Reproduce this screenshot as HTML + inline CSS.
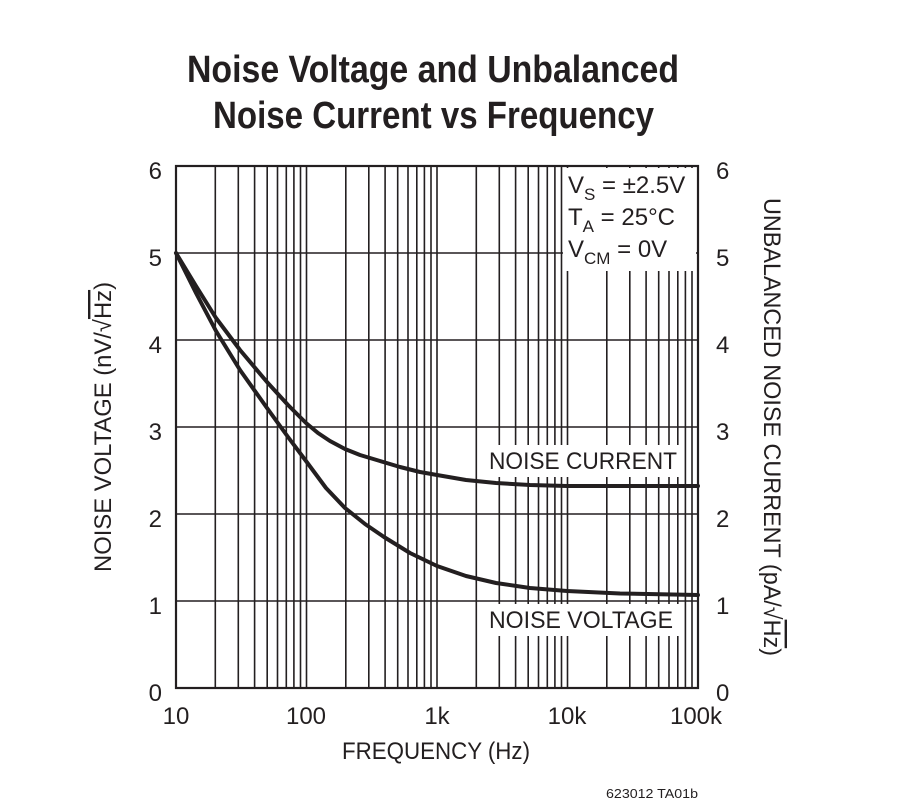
<!DOCTYPE html>
<html><head><meta charset="utf-8"><style>
body{margin:0;background:#fff}
text{font-family:"Liberation Sans Narrow","Liberation Sans",sans-serif;fill:#231f20}
</style></head><body>
<svg width="910" height="807" viewBox="0 0 910 807" xmlns="http://www.w3.org/2000/svg">
<g stroke="#231f20" stroke-width="1.6" fill="none">
<path d="M215.3 166V688M238.3 166V688M254.6 166V688M267.2 166V688M277.5 166V688M286.3 166V688M293.9 166V688M300.5 166V688
M306.5 166V688M345.8 166V688M368.8 166V688M385.1 166V688M397.7 166V688M408 166V688M416.8 166V688M424.4 166V688M431 166V688
M437 166V688M476.3 166V688M499.3 166V688M515.6 166V688M528.2 166V688M538.5 166V688M547.3 166V688M554.9 166V688M561.5 166V688
M567.5 166V688M606.8 166V688M629.8 166V688M646.1 166V688M658.7 166V688M669 166V688M677.8 166V688M685.4 166V688M692 166V688
M176 253H698M176 340H698M176 427H698M176 514H698M176 601H698"/>
</g>
<rect x="176" y="166" width="522" height="522" fill="none" stroke="#231f20" stroke-width="2.2"/>
<g stroke="#231f20" stroke-width="4" fill="none" stroke-linecap="round" stroke-linejoin="round">
<polyline points="176,253 196,286 216,318 240,350 267,382 288,405 306,423 318,433 330,441 345,449 360,455 380,461 400,467 420,472 437,475 466,480 496,483 530,485 567,486 698,486"/>
<polyline points="176,253 196,293 216,331 240,370 267,408 288,437 306,461 326,488 345,508 365,524 384,537 410,553 437,566 466,576 496,583 530,588 567,591 620,593.5 698,595"/>
</g>
<rect x="563" y="168" width="133" height="103" fill="#fff"/>
<rect x="484" y="445" width="196" height="32" fill="#fff"/>
<rect x="484" y="604" width="196" height="32" fill="#fff"/>
<text x="187" y="82" font-size="38" font-weight="bold" textLength="492" lengthAdjust="spacingAndGlyphs">Noise Voltage and Unbalanced</text>
<text x="213" y="128" font-size="38" font-weight="bold" textLength="441" lengthAdjust="spacingAndGlyphs">Noise Current vs Frequency</text>
<g font-size="24" text-anchor="end">
<text x="162" y="179">6</text><text x="162" y="266">5</text><text x="162" y="353">4</text><text x="162" y="440">3</text><text x="162" y="527">2</text><text x="162" y="614">1</text><text x="162" y="701">0</text>
</g>
<g font-size="24">
<text x="716" y="179">6</text><text x="716" y="266">5</text><text x="716" y="353">4</text><text x="716" y="440">3</text><text x="716" y="527">2</text><text x="716" y="614">1</text><text x="716" y="701">0</text>
</g>
<g font-size="24" text-anchor="middle">
<text x="176" y="724">10</text><text x="306" y="724">100</text><text x="437" y="724">1k</text><text x="567" y="724">10k</text><text x="696" y="724">100k</text>
</g>
<text x="342" y="759" font-size="24" textLength="188" lengthAdjust="spacingAndGlyphs">FREQUENCY (Hz)</text>
<text transform="translate(111 572) rotate(-90)" font-size="24" textLength="290" lengthAdjust="spacingAndGlyphs">NOISE VOLTAGE (nV/√<tspan text-decoration="overline">Hz</tspan>)</text>
<text transform="translate(764 198) rotate(90)" font-size="24" textLength="458" lengthAdjust="spacingAndGlyphs">UNBALANCED NOISE CURRENT (pA/√<tspan text-decoration="overline">Hz</tspan>)</text>
<g font-size="24">
<text x="568" y="193">V<tspan font-size="17" dy="7">S</tspan><tspan dy="-7"> = ±2.5V</tspan></text>
<text x="568" y="225">T<tspan font-size="17" dy="7">A</tspan><tspan dy="-7"> = 25°C</tspan></text>
<text x="568" y="257">V<tspan font-size="17" dy="7">CM</tspan><tspan dy="-7"> = 0V</tspan></text>
<text x="489" y="469" textLength="188" lengthAdjust="spacingAndGlyphs">NOISE CURRENT</text>
<text x="489" y="628" textLength="184" lengthAdjust="spacingAndGlyphs">NOISE VOLTAGE</text>
</g>
<text x="606" y="798" font-size="13" textLength="92" lengthAdjust="spacingAndGlyphs">623012 TA01b</text>
</svg>
</body></html>
